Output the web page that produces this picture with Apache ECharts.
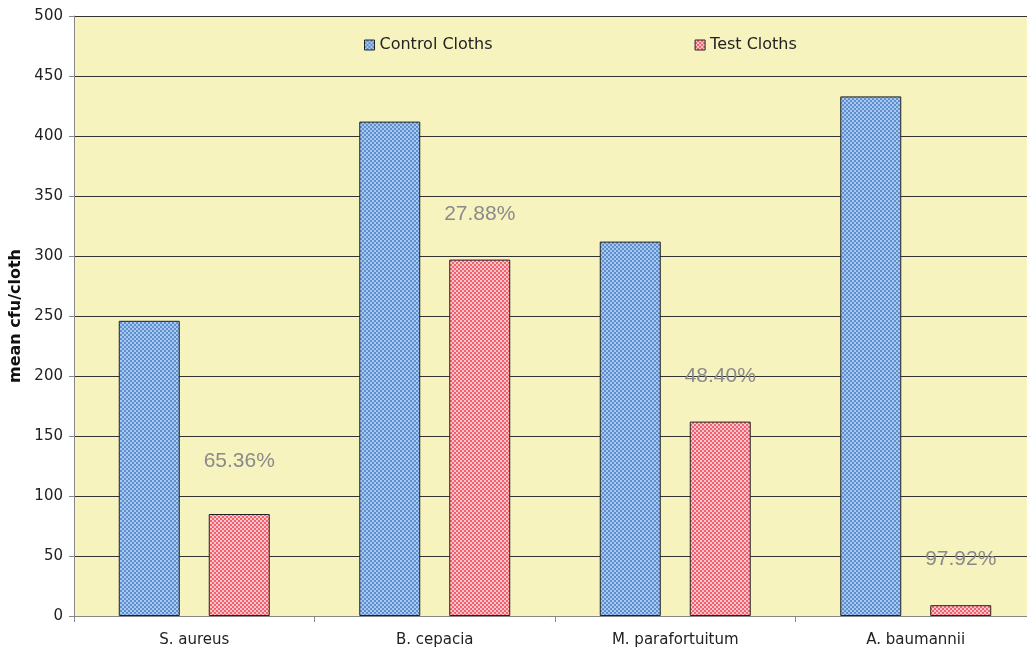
<!DOCTYPE html>
<html>
<head>
<meta charset="utf-8">
<script src="https://cdn.jsdelivr.net/npm/echarts@6/dist/echarts.min.js"></script>
<style>
html,body{margin:0;padding:0;background:#fff;}
#chart{width:1027px;height:649px;}
</style>
</head>
<body>
<div id="chart"></div>
<script>
const categories = ['S. aureus', 'B. cepacia', 'M. parafortuitum', 'A. baumannii'];
const controlCloths = [246, 412, 312, 433];
const testCloths = [85, 297, 162, 9];
const reductionLabels = ['65.36%', '27.88%', '48.40%', '97.92%'];
const seriesNames = ['Control Cloths', 'Test Cloths'];

function checker(c1, c2) {
  const cv = document.createElement('canvas');
  cv.width = 4; cv.height = 4;
  const ctx = cv.getContext('2d');
  ctx.fillStyle = c1; ctx.fillRect(0, 0, 4, 4);
  ctx.fillStyle = c2;
  ctx.fillRect(0, 0, 2, 2);
  ctx.fillRect(2, 2, 2, 2);
  return { image: cv, repeat: 'repeat' };
}
const bluePat = checker('#5b8fd1', '#a9c8ec');
const redPat = checker('#f0606f', '#ffc3ca');
const bluePatL = checker('#5b8fd1', '#a9c8ec');
const redPatL = checker('#f0606f', '#ffc3ca');

const chart = echarts.init(document.getElementById('chart'), null, { renderer: 'canvas' });
const fontAxis = 'DejaVu Sans, Verdana, sans-serif';
chart.setOption({
  animation: false,
  backgroundColor: '#ffffff',
  grid: {
    left: 74, top: 16, bottom: 33, right: -9,
    outerBoundsMode: 'none',
    containLabel: false,
    show: true, backgroundColor: '#f7f3bf', borderWidth: 0
  },
  legend: {
    left: 359, top: 32,
    itemWidth: 10, itemHeight: 10, itemGap: 202,
    icon: 'rect',
    textStyle: { fontFamily: fontAxis, fontSize: 16, color: '#222' },
    data: [
      { name: seriesNames[0], itemStyle: { color: bluePatL, borderColor: '#222', borderWidth: 1 } },
      { name: seriesNames[1], itemStyle: { color: redPatL, borderColor: '#222', borderWidth: 1 } }
    ]
  },
  xAxis: {
    type: 'category',
    data: categories,
    axisLine: { show: true, lineStyle: { color: '#888', width: 1 } },
    axisTick: { show: true, length: 6, lineStyle: { color: '#888' } },
    axisLabel: { fontFamily: fontAxis, fontSize: 15, color: '#222', margin: 17 },
    splitLine: { show: false }
  },
  yAxis: {
    type: 'value',
    min: 0, max: 500, interval: 50,
    name: 'mean cfu/cloth',
    nameLocation: 'middle',
    nameGap: 50,
    nameTextStyle: { fontFamily: fontAxis, fontSize: 16, fontWeight: 'bold', color: '#111' },
    axisLine: { show: true, lineStyle: { color: '#888', width: 1 } },
    axisTick: { show: true, length: 5, lineStyle: { color: '#888' } },
    axisLabel: { fontFamily: fontAxis, fontSize: 15, color: '#222', margin: 11 },
    splitLine: { show: true, lineStyle: { color: '#333', width: 1 } }
  },
  series: [
    {
      name: seriesNames[0], type: 'bar', data: controlCloths,
      barWidth: 61, barGap: '47.5%',
      itemStyle: { color: bluePat, borderColor: '#222', borderWidth: 1 }
    },
    {
      name: seriesNames[1], type: 'bar',
      data: testCloths.map((v, i) => ({ value: v, label: i === 0 ? { distance: 42 } : {} })),
      barWidth: 61,
      itemStyle: { color: redPat, borderColor: '#222', borderWidth: 1 },
      label: {
        show: true, position: 'top', distance: 35,
        formatter: p => reductionLabels[p.dataIndex],
        fontFamily: 'Liberation Sans, Arial, sans-serif',
        fontSize: 21, color: '#8a8a8a'
      }
    }
  ]
});
</script>
</body>
</html>
